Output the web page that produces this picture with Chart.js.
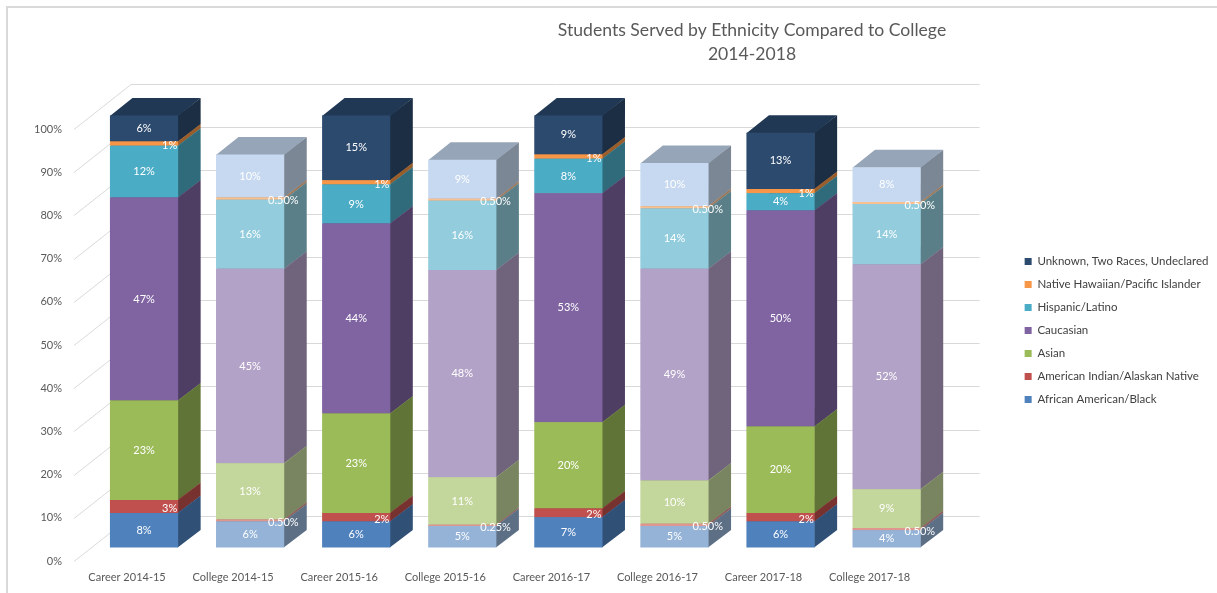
<!DOCTYPE html>
<html>
<head>
<meta charset="utf-8">
<script src="https://cdn.jsdelivr.net/npm/chart.js@4.4.1/dist/chart.umd.min.js"></script>
<style>
  html, body { margin: 0; padding: 0; background: #ffffff; }
  #wrap { width: 1217px; height: 593px; }
</style>
</head>
<body>
<div id="wrap"><canvas id="chart" width="1217" height="593"></canvas></div>
<script>
// ---- data -------------------------------------------------------------
const categories = ['Career 2014-15', 'College 2014-15', 'Career 2015-16', 'College 2015-16',
                    'Career 2016-17', 'College 2016-17', 'Career 2017-18', 'College 2017-18'];

const africanAmerican = [8, 6, 6, 5, 7, 5, 6, 4];
const americanIndian  = [3, 0.5, 2, 0.25, 2, 0.5, 2, 0.5];
const asian           = [23, 13, 23, 11, 20, 10, 20, 9];
const caucasian       = [47, 45, 44, 48, 53, 49, 50, 52];
const hispanicLatino  = [12, 16, 9, 16, 8, 14, 4, 14];
const nativeHawaiian  = [1, 0.5, 1, 0.5, 1, 0.5, 1, 0.5];
const unknownTwoRaces = [6, 10, 15, 9, 9, 10, 13, 8];

const seriesNames = ['African American/Black', 'American Indian/Alaskan Native', 'Asian', 'Caucasian',
                     'Hispanic/Latino', 'Native Hawaiian/Pacific Islander', 'Unknown, Two Races, Undeclared'];
const seriesValues = [africanAmerican, americanIndian, asian, caucasian, hispanicLatino, nativeHawaiian, unknownTwoRaces];

const yTicks = [0, 10, 20, 30, 40, 50, 60, 70, 80, 90, 100];
const titleLines = ['Students Served by Ethnicity Compared to College', '2014-2018'];

// ---- styling ----------------------------------------------------------
const careerColors  = ['#4F81BD', '#C0504D', '#9BBB59', '#8064A2', '#4BACC6', '#F79646', '#2C4A6E'];
const collegeColors = ['#95B3D7', '#DE968F', '#C3D69B', '#B3A2C7', '#93CDDD', '#FAC090', '#C6D9F1'];

const FONT = 'Lato';
const FRONT = { dx: 17, dy: -13.5 };   // front face of the bars relative to the axis plane
const DEPTH = { dx: 22.5, dy: -17.5 }; // bar depth
const WALL  = { dx: 57, dy: -45 };     // back wall relative to the axis plane
const PLOT_RIGHT = 920;
const LEGEND_BOX_X = 1022;

function shade(hex, f) {
  const n = parseInt(hex.slice(1), 16);
  const r = Math.round(((n >> 16) & 255) * f);
  const g = Math.round(((n >> 8) & 255) * f);
  const b = Math.round((n & 255) * f);
  return `rgb(${r},${g},${b})`;
}

function pctLabel(v) {
  return (Number.isInteger(v) ? String(v) : v.toFixed(2)) + '%';
}

// legend geometry: keep the plot's right edge fixed whatever the text width
const legendFontSize = 11.5, legendBox = 7, legendPad = 11.5;
const measure = document.createElement('canvas').getContext('2d');
measure.font = `normal ${legendFontSize}px ${FONT}`;
const legendTextW = Math.max(...seriesNames.map(n => measure.measureText(n).width));
const legendW = legendPad + legendBox + legendFontSize / 2 + legendTextW + 10;
const padRight = Math.max(0, 1217 - (LEGEND_BOX_X - legendPad) - legendW);
const rightGapW = 1217 - padRight - legendW - PLOT_RIGHT;

function polygon(ctx, pts) {
  ctx.beginPath();
  ctx.moveTo(pts[0][0], pts[0][1]);
  for (let k = 1; k < pts.length; k++) ctx.lineTo(pts[k][0], pts[k][1]);
  ctx.closePath();
  ctx.fill();
}

// ---- 3D look: frame, title, walls, bar sides and tops, value labels ----
const bars3d = {
  id: 'bars3d',
  beforeDraw(chart) {
    const { ctx } = chart;
    ctx.save();
    ctx.strokeStyle = '#D9D9D9';
    ctx.lineWidth = 2;
    ctx.beginPath();
    ctx.moveTo(7, chart.height);
    ctx.lineTo(7, 7);
    ctx.lineTo(chart.width, 7);
    ctx.stroke();

    ctx.fillStyle = '#595959';
    ctx.font = `normal 17.6px ${FONT}`;
    ctx.textAlign = 'center';
    ctx.textBaseline = 'middle';
    titleLines.forEach((t, i) => ctx.fillText(t, 752, 30 + i * 24.5));
    ctx.restore();
  },
  beforeDatasetsDraw(chart) {
    const { ctx, chartArea } = chart;
    const yScale = chart.scales.y;

    // side wall and back wall gridlines
    ctx.save();
    ctx.strokeStyle = '#D9D9D9';
    ctx.lineWidth = 1;
    yTicks.forEach(v => {
      const py = Math.round(yScale.getPixelForValue(v)) + 0.5;
      ctx.beginPath();
      ctx.moveTo(chartArea.left, py);
      ctx.lineTo(chartArea.left + WALL.dx, py + WALL.dy);
      ctx.lineTo(chartArea.right + WALL.dx, py + WALL.dy);
      ctx.stroke();
    });

    // side and top faces, bottom segment first
    ctx.translate(FRONT.dx, FRONT.dy);
    chart.data.datasets.forEach((ds, i) => {
      const meta = chart.getDatasetMeta(i);
      if (meta.hidden) return;
      meta.data.forEach((bar, j) => {
        const { x, y, base, width } = bar.getProps(['x', 'y', 'base', 'width'], true);
        const L = x - width / 2, R = x + width / 2;
        const T = Math.min(y, base), B = Math.max(y, base);
        const col = ds.backgroundColor[j];
        ctx.fillStyle = shade(col, 0.62);
        polygon(ctx, [[R - 0.5, B], [R - 0.5, T], [R + DEPTH.dx, T + DEPTH.dy], [R + DEPTH.dx, B + DEPTH.dy]]);
        ctx.fillStyle = shade(col, 0.76);
        polygon(ctx, [[L, T + 0.5], [R, T + 0.5], [R + DEPTH.dx, T + DEPTH.dy], [L + DEPTH.dx, T + DEPTH.dy]]);
      });
    });
    ctx.restore();

    // front faces are drawn by Chart.js on the bar plane
    ctx.save();
    ctx.translate(FRONT.dx, FRONT.dy);
  },
  afterDatasetsDraw(chart) {
    const { ctx } = chart;
    ctx.restore();

    ctx.save();
    ctx.fillStyle = '#FFFFFF';
    ctx.font = `normal 11px ${FONT}`;
    ctx.textBaseline = 'middle';
    chart.data.datasets.forEach((ds, i) => {
      const meta = chart.getDatasetMeta(i);
      if (meta.hidden) return;
      meta.data.forEach((bar, j) => {
        const v = ds.data[j];
        const { x, y, base } = bar.getProps(['x', 'y', 'base'], true);
        const cy = (y + base) / 2 + FRONT.dy;
        if (v >= 3.5) {
          ctx.textAlign = 'center';
          ctx.fillText(pctLabel(v), x + FRONT.dx, cy);
        } else {
          ctx.textAlign = 'left';
          ctx.fillText(pctLabel(v), x + FRONT.dx + 18, cy + 2);
        }
      });
    });
    ctx.restore();
  }
};

const datasets = seriesValues.map((vals, i) => ({
  label: seriesNames[i],
  data: vals,
  xAxisID: 'x',
  yAxisID: 'y',
  backgroundColor: categories.map((c, j) => (j % 2 === 0 ? careerColors[i] : collegeColors[i])),
  borderWidth: 0,
  categoryPercentage: 1,
  barPercentage: 0.643,
  clip: false
}));

const tickFont = { family: FONT, size: 11 };

new Chart(document.getElementById('chart'), {
  type: 'bar',
  data: { labels: categories, datasets },
  plugins: [bars3d],
  options: {
    responsive: false,
    animation: false,
    events: [],
    layout: { padding: { top: 68, left: 0, right: padRight, bottom: 0 } },
    plugins: {
      title: { display: false },
      tooltip: { enabled: false },
      legend: {
        position: 'right',
        align: 'center',
        labels: {
          boxWidth: legendBox,
          boxHeight: legendBox,
          padding: legendPad,
          color: '#404040',
          font: { family: FONT, size: legendFontSize },
          generateLabels: () => seriesNames.map((name, i) => ({
            text: name,
            fillStyle: careerColors[i],
            strokeStyle: careerColors[i],
            lineWidth: 0,
            hidden: false,
            datasetIndex: i,
            fontColor: '#404040'
          })).reverse()
        }
      }
    },
    scales: {
      x: {
        type: 'category',
        stacked: true,
        offset: true,
        grid: { display: false, drawTicks: false },
        border: { display: false },
        ticks: { color: '#595959', font: tickFont, padding: 10, maxRotation: 0, autoSkip: false },
        afterFit(s) { s.height = 32; }
      },
      y: {
        stacked: true,
        min: 0,
        max: 100,
        grid: { display: false, drawTicks: false },
        border: { display: false },
        afterBuildTicks(s) { s.ticks = yTicks.map(v => ({ value: v })); },
        ticks: { color: '#595959', font: tickFont, padding: 12, callback: v => v + '%' },
        afterFit(s) { s.width = 74; }
      },
      topGap: {
        type: 'linear',
        axis: 'x',
        position: 'top',
        display: true,
        grid: { display: false, drawTicks: false },
        border: { display: false },
        ticks: { display: false },
        afterFit(s) { s.height = 61; }
      },
      rightGap: {
        type: 'linear',
        axis: 'y',
        position: 'right',
        display: true,
        grid: { display: false, drawTicks: false },
        border: { display: false },
        ticks: { display: false },
        afterFit(s) { s.width = rightGapW; }
      }
    }
  }
});
</script>
</body>
</html>
